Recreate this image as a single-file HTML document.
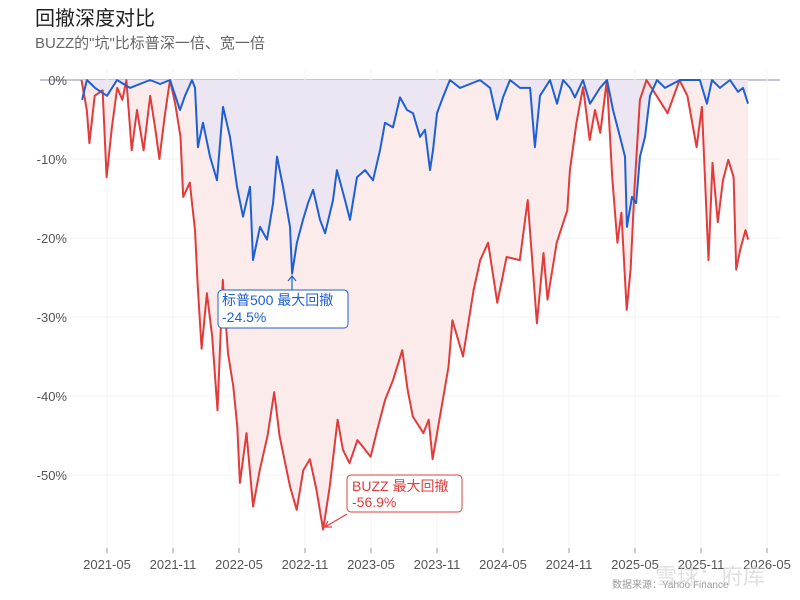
<!DOCTYPE html>
<html><head><meta charset="utf-8">
<style>
body{margin:0;background:#fff;width:800px;height:600px;overflow:hidden;font-family:"Liberation Sans","Noto Sans CJK SC",sans-serif;}
svg{display:block}
</style></head>
<body>
<svg id="chart" width="800" height="600" xmlns="http://www.w3.org/2000/svg">
<text x="35" y="25" font-size="20" fill="#222" font-family="Liberation Sans,Noto Sans CJK SC,sans-serif">回撤深度对比</text>
<text x="35" y="48" font-size="15" fill="#666" font-family="Liberation Sans,Noto Sans CJK SC,sans-serif">BUZZ的"坑"比标普深一倍、宽一倍</text>
<g id="grid"></g>
<g id="areas"></g>
<g id="lines"></g>
<g id="axes"></g>
<g id="annot"></g>
</svg>
<script>
const yTicks = [0, -10, -20, -30, -40, -50];
const xTickLabels = ["2021-05","2021-11","2022-05","2022-11","2023-05","2023-11","2024-05","2024-11","2025-05","2025-11","2026-05"];
const xTickYears = [2021.333,2021.833,2022.333,2022.833,2023.333,2023.833,2024.333,2024.833,2025.333,2025.833,2026.333];
const buzzDates = [2021.14,2021.18,2021.20,2021.24,2021.30,2021.33,2021.37,2021.41,2021.45,2021.48,2021.52,2021.56,2021.61,2021.66,2021.70,2021.73,2021.77,2021.81,2021.85,2021.89,2021.91,2021.96,2022.00,2022.02,2022.05,2022.09,2022.13,2022.17,2022.21,2022.25,2022.29,2022.32,2022.34,2022.39,2022.44,2022.49,2022.55,2022.60,2022.64,2022.72,2022.77,2022.82,2022.87,2022.92,2022.97,2023.02,2023.08,2023.12,2023.17,2023.23,2023.27,2023.33,2023.38,2023.44,2023.50,2023.57,2023.61,2023.65,2023.73,2023.77,2023.80,2023.92,2023.95,2024.03,2024.11,2024.16,2024.22,2024.29,2024.36,2024.46,2024.52,2024.59,2024.64,2024.67,2024.74,2024.82,2024.84,2024.89,2024.94,2024.99,2025.03,2025.07,2025.12,2025.16,2025.20,2025.23,2025.27,2025.30,2025.33,2025.37,2025.42,2025.47,2025.58,2025.67,2025.73,2025.80,2025.84,2025.89,2025.92,2025.96,2026.00,2026.04,2026.08,2026.10,2026.13,2026.17,2026.19];
const buzzValues = [0,-3.8,-8,-2,-1.3,-12.3,-6,-1,-2.5,0,-8.9,-3.8,-8.9,-2,-6.3,-10,-4.6,0,-3,-7.2,-14.8,-13,-19,-26,-34,-27,-32.5,-41.8,-25.3,-34.6,-38.8,-43.9,-51,-44.7,-54,-49.4,-45,-39.5,-45,-51.5,-54.4,-49.4,-48,-51.9,-56.9,-51.5,-43,-46.8,-48.5,-45.6,-46.4,-47.7,-44.3,-40.5,-38,-34.2,-39.2,-42.6,-44.7,-43,-48,-36.3,-30.4,-35,-26.6,-22.8,-20.6,-28.2,-22.4,-22.8,-15.2,-30.8,-21.9,-27.8,-20.6,-16.5,-11.4,-5.4,-0.9,-7.6,-3.8,-6.7,0,-12.3,-20.6,-16.8,-29.1,-24,-13.5,-2.5,0,-1.3,-4.2,0,-2,-8.5,-3.4,-22.8,-10.5,-18,-12.7,-10.1,-12.3,-24,-21.5,-19,-20.2];
const spxPx = [82,87,95,107,117,130,150,160,170,180,185,192,195,198,203,210,217,223,230,237,243,250,253,260,267,273,277,283,290,292,297,303,308,313,320,325,333,337,345,350,357,365,373,380,385,393,400,407,413,420,425,430,433,437,443,450,460,470,480,490,497,503,510,520,530,535,540,550,557,563,570,575,583,590,600,607,613,620,625,627,632,636,640,645,650,657,665,680,700,707,712,720,730,738,743,748];
const spxDates = spxPx.map(p => +(2021.333 + (p-107)/132).toFixed(3));
const spxValues = [-2.5,0,-1,-2,0,-1,0,-0.5,0,-3.8,-2,0,-1,-8.5,-5.4,-9.7,-12.7,-3.4,-7.2,-13.5,-17.3,-13.5,-22.8,-18.6,-20.2,-15.6,-9.7,-13.5,-18.6,-24.5,-20.6,-17.7,-15.6,-13.9,-17.7,-19.4,-15.2,-11.4,-15.2,-17.7,-12.3,-11.4,-12.7,-8.9,-5.4,-6,-2.2,-3.8,-4.2,-7.2,-6.3,-11.4,-8.9,-4.2,-2.2,0,-1,-0.5,0,-1,-5,-2.2,0,-1,-1,-8.5,-2,0,-3,0,-1,-2.2,0,-3,-1,0,-3.8,-7.2,-9.7,-18.6,-14.8,-15.6,-9.7,-7.2,-2,0,-1,0,0,-3,0,-1,0,-1.5,-1,-3];

const NS="http://www.w3.org/2000/svg";
const X = yr => 107 + (yr-2021.333)*132;
const Y = v => 80 - v*7.9;
function mk(tag, attrs, parent){const e=document.createElementNS(NS,tag);for(const k in attrs)e.setAttribute(k,attrs[k]);document.getElementById(parent).appendChild(e);return e;}

yTicks.forEach(t=>{
  const g=mk('line',{x1:40,x2:780,y1:Y(t),y2:Y(t),stroke:t===0?'#8a8fb0':'#f0f0f0','stroke-width':1},'grid');
  
  
  const l=mk('text',{x:67,y:Y(t)+5,'text-anchor':'end','font-size':13,fill:'#555'},'axes');
  l.textContent=t+'%';
  
  
});
xTickYears.forEach((yr,i)=>{
  const g=mk('line',{x1:X(yr),x2:X(yr),y1:70,y2:550,stroke:'#f3f3f3','stroke-width':1},'grid');
  
  
  const tk=mk('line',{x1:X(yr),x2:X(yr),y1:548,y2:553,stroke:'#999','stroke-width':1},'axes');
  
  
  const l=mk('text',{x:X(yr),y:569,'text-anchor':'middle','font-size':13,fill:'#555'},'axes');
  l.textContent=xTickLabels[i];
  
  
});
function pathOf(d,v){return d.map((x,i)=>(i?'L':'M')+X(x).toFixed(1)+','+Y(v[i]).toFixed(1)).join('');}
function areaOf(d,v){return pathOf(d,v)+'L'+X(d[d.length-1]).toFixed(1)+','+Y(0)+'L'+X(d[0]).toFixed(1)+','+Y(0)+'Z';}
const a1=mk('path',{d:areaOf(buzzDates,buzzValues),fill:'#fbeceb'},'areas');


const a2=mk('path',{d:areaOf(spxDates,spxValues),fill:'#ebe6f1'},'areas');


const l1=mk('path',{d:pathOf(buzzDates,buzzValues),fill:'none',stroke:'#e03c3c','stroke-width':2,'stroke-linejoin':'round'},'lines');


const l2=mk('path',{d:pathOf(spxDates,spxValues),fill:'none',stroke:'#1f5fd6','stroke-width':2,'stroke-linejoin':'round'},'lines');


</script>
<svg style="position:absolute;left:0;top:0" width="800" height="600">
<g>
<path d="M292,290 L292,276 M288,281 L292,276 L296,281" stroke="#1f5fd6" stroke-width="1.2" fill="none"/>
<rect x="218" y="290" width="130" height="38" rx="4" fill="#fff" stroke="#1f5fd6" stroke-width="1"/>
<text x="222" y="305" font-size="14" fill="#1f5fd6" font-family="Liberation Sans,Noto Sans CJK SC,sans-serif">标普500 最大回撤</text>
<text x="222" y="322" font-size="14" fill="#1f5fd6" font-family="Liberation Sans,sans-serif">-24.5%</text>
</g>
<g>
<path d="M347,514 L325,527 M328,521 L325,527 L332,527" stroke="#e03c3c" stroke-width="1.2" fill="none"/>
<rect x="347" y="475" width="115" height="37" rx="4" fill="#fff" stroke="#e03c3c" stroke-width="1"/>
<text x="352" y="491" font-size="14" fill="#e03c3c" font-family="Liberation Sans,Noto Sans CJK SC,sans-serif">BUZZ 最大回撤</text>
<text x="352" y="507" font-size="14" fill="#e03c3c" font-family="Liberation Sans,sans-serif">-56.9%</text>
</g>
<text x="612" y="588" font-size="10" fill="#999" font-family="Liberation Sans,Noto Sans CJK SC,sans-serif">数据来源：Yahoo Finance</text>
<text x="655" y="584" font-size="22" fill="#ccc" opacity="0.6" font-family="Liberation Sans,Noto Sans CJK SC,sans-serif">雪球：府库</text>
</svg>
</body></html>
